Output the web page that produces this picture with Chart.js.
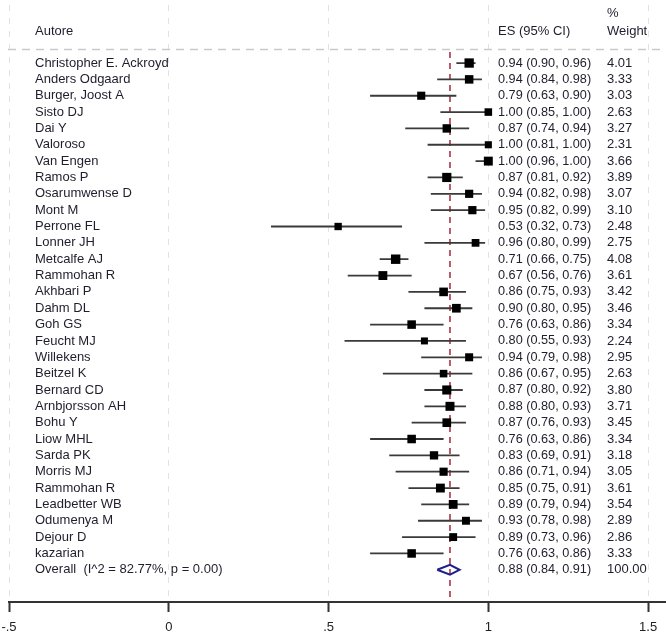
<!DOCTYPE html>
<html>
<head>
<meta charset="utf-8">
<title>Forest plot</title>
<script src="https://cdn.jsdelivr.net/npm/chart.js@4.4.1/dist/chart.umd.min.js"></script>
<style>
    html, body { margin: 0; padding: 0; background: #fff; }
    canvas { display: block; }
</style>
</head>
<body>
<canvas id="forest" width="666" height="634"></canvas>
<script>
// ========================
// Data
// ========================
const authors = [
    'Christopher E. Ackroyd', 'Anders Odgaard', 'Burger, Joost A', 'Sisto DJ', 'Dai Y',
    'Valoroso', 'Van Engen', 'Ramos P', 'Osarumwense D', 'Mont M',
    'Perrone FL', 'Lonner JH', 'Metcalfe AJ', 'Rammohan R', 'Akhbari P',
    'Dahm DL', 'Goh GS', 'Feucht MJ', 'Willekens', 'Beitzel K',
    'Bernard CD', 'Arnbjorsson AH', 'Bohu Y', 'Liow MHL', 'Sarda PK',
    'Morris MJ', 'Rammohan R', 'Leadbetter WB', 'Odumenya M', 'Dejour D',
    'kazarian'
];
const es = [
    0.94, 0.94, 0.79, 1.00, 0.87, 1.00, 1.00, 0.87, 0.94, 0.95,
    0.53, 0.96, 0.71, 0.67, 0.86, 0.90, 0.76, 0.80, 0.94, 0.86,
    0.87, 0.88, 0.87, 0.76, 0.83, 0.86, 0.85, 0.89, 0.93, 0.89,
    0.76
];
const ciLow = [
    0.90, 0.84, 0.63, 0.85, 0.74, 0.81, 0.96, 0.81, 0.82, 0.82,
    0.32, 0.80, 0.66, 0.56, 0.75, 0.80, 0.63, 0.55, 0.79, 0.67,
    0.80, 0.80, 0.76, 0.63, 0.69, 0.71, 0.75, 0.79, 0.78, 0.73,
    0.63
];
const ciHigh = [
    0.96, 0.98, 0.90, 1.00, 0.94, 1.00, 1.00, 0.92, 0.98, 0.99,
    0.73, 0.99, 0.75, 0.76, 0.93, 0.95, 0.86, 0.93, 0.98, 0.95,
    0.92, 0.93, 0.93, 0.86, 0.91, 0.94, 0.91, 0.94, 0.98, 0.96,
    0.86
];
const weights = [
    4.01, 3.33, 3.03, 2.63, 3.27, 2.31, 3.66, 3.89, 3.07, 3.10,
    2.48, 2.75, 4.08, 3.61, 3.42, 3.46, 3.34, 2.24, 2.95, 2.63,
    3.80, 3.71, 3.45, 3.34, 3.18, 3.05, 3.61, 3.54, 2.89, 2.86,
    3.33
];

const overallLabel = 'Overall  (I^2 = 82.77%, p = 0.00)';
const overallEs = 0.88;
const overallLow = 0.84;
const overallHigh = 0.91;
const overallWeight = 100.00;

const xTicks = [-0.5, 0, 0.5, 1, 1.5];
const xTickLabels = ['-.5', '0', '.5', '1', '1.5'];

// ========================
// Derived series
// ========================
const overallRow = authors.length + 1;
const yMin = -2.55;
const yMax = 33.97;

const ciPoints = [];
authors.forEach((_, i) => {
    ciPoints.push({ x: ciLow[i], y: i + 1 }, { x: ciHigh[i], y: i + 1 }, { x: null, y: null });
});

const boxPoints = es.map((v, i) => ({ x: v, y: i + 1 }));
const boxRadius = weights.map(w => 3.3 * Math.sqrt(w));

const diamondHalf = 0.3;
const diamondPoints = [
    { x: overallLow, y: overallRow },
    { x: overallEs, y: overallRow - diamondHalf },
    { x: overallHigh, y: overallRow },
    { x: overallEs, y: overallRow + diamondHalf },
    { x: overallLow, y: overallRow }
];

const refPoints = [
    { x: overallEs, y: 0.33 },
    { x: overallEs, y: yMax }
];

const fmt = v => v.toFixed(2);
const textFont = '13px "Liberation Sans", Arial, sans-serif';
const esFont = '12.7px "Liberation Sans", Arial, sans-serif';
const textColor = '#1e1e2c';

// ========================
// Text columns + header line
// ========================
const forestText = {
    id: 'forestText',
    beforeDatasetsDraw(chart) {
        const { ctx } = chart;
        // dashed line under the header
        ctx.save();
        ctx.strokeStyle = '#c9c9c9';
        ctx.lineWidth = 1.5;
        ctx.setLineDash([8, 6]);
        ctx.beginPath();
        ctx.moveTo(8, 49.5);
        ctx.lineTo(666, 49.5);
        ctx.stroke();
        ctx.restore();
    },
    afterDatasetsDraw(chart) {
        const { ctx, scales: { y } } = chart;
        ctx.save();
        ctx.fillStyle = textColor;
        ctx.textBaseline = 'middle';
        ctx.textAlign = 'left';

        // header
        ctx.font = textFont;
        ctx.fillText('Autore', 35, 31);
        ctx.fillText('ES (95% CI)', 498, 31);
        ctx.fillText('%', 607, 13);
        ctx.fillText('Weight', 607, 31);

        // study rows
        authors.forEach((name, i) => {
            const py = y.getPixelForValue(i + 1);
            ctx.font = textFont;
            ctx.fillText(name, 35, py);
            ctx.font = esFont;
            ctx.fillText(fmt(es[i]) + ' (' + fmt(ciLow[i]) + ', ' + fmt(ciHigh[i]) + ')', 498, py);
            ctx.font = textFont;
            ctx.fillText(fmt(weights[i]), 607, py);
        });

        // overall row
        const oy = y.getPixelForValue(overallRow);
        ctx.font = textFont;
        ctx.fillText(overallLabel, 35, oy);
        ctx.font = esFont;
        ctx.fillText(fmt(overallEs) + ' (' + fmt(overallLow) + ', ' + fmt(overallHigh) + ')', 498, oy);
        ctx.font = textFont;
        ctx.fillText(fmt(overallWeight), 607, oy);
        ctx.restore();
    }
};

// ========================
// Chart
// ========================
new Chart(document.getElementById('forest'), {
    type: 'scatter',
    data: {
        datasets: [
            {
                label: 'Overall ES',
                data: refPoints,
                showLine: true,
                borderColor: '#a3283c',
                borderWidth: 1.5,
                borderDash: [6, 5],
                pointRadius: 0,
                order: 3
            },
            {
                label: 'CI',
                data: ciPoints,
                showLine: true,
                spanGaps: false,
                borderColor: '#3a3a3a',
                borderWidth: 1.8,
                pointRadius: 0,
                order: 2
            },
            {
                label: 'ES',
                data: boxPoints,
                pointStyle: 'rect',
                pointRadius: boxRadius,
                backgroundColor: '#000',
                borderColor: '#000',
                borderWidth: 0,
                order: 1
            },
            {
                label: 'Overall',
                data: diamondPoints,
                showLine: true,
                borderColor: '#1f1f8c',
                borderWidth: 2,
                pointRadius: 0,
                order: 1
            }
        ]
    },
    options: {
        responsive: false,
        animation: false,
        events: [],
        layout: { autoPadding: false, padding: { left: 9, right: 0, top: 5, bottom: 0 } },
        plugins: {
            legend: { display: false },
            tooltip: { enabled: false }
        },
        scales: {
            x: {
                type: 'linear',
                position: 'bottom',
                min: -0.5,
                max: 1.556,
                afterBuildTicks: scale => {
                    scale.ticks = xTicks.map(v => ({ value: v }));
                },
                afterFit: scale => {
                    scale.height = 32;
                    scale.paddingLeft = 0;
                    scale.paddingRight = 0;
                },
                ticks: {
                    autoSkip: false,
                    maxRotation: 0,
                    padding: 8,
                    color: '#222',
                    font: { family: '"Liberation Sans", Arial, sans-serif', size: 13 },
                    callback: (value) => xTickLabels[xTicks.indexOf(value)]
                },
                grid: {
                    color: '#e2e2e2',
                    lineWidth: 1,
                    tickLength: 10,
                    tickColor: '#333',
                    tickWidth: 2
                },
                border: {
                    display: true,
                    color: '#333',
                    width: 2,
                    dash: [6, 7]
                }
            },
            y: {
                type: 'linear',
                display: false,
                reverse: true,
                min: yMin,
                max: yMax
            }
        }
    },
    plugins: [forestText]
});
</script>
</body>
</html>
